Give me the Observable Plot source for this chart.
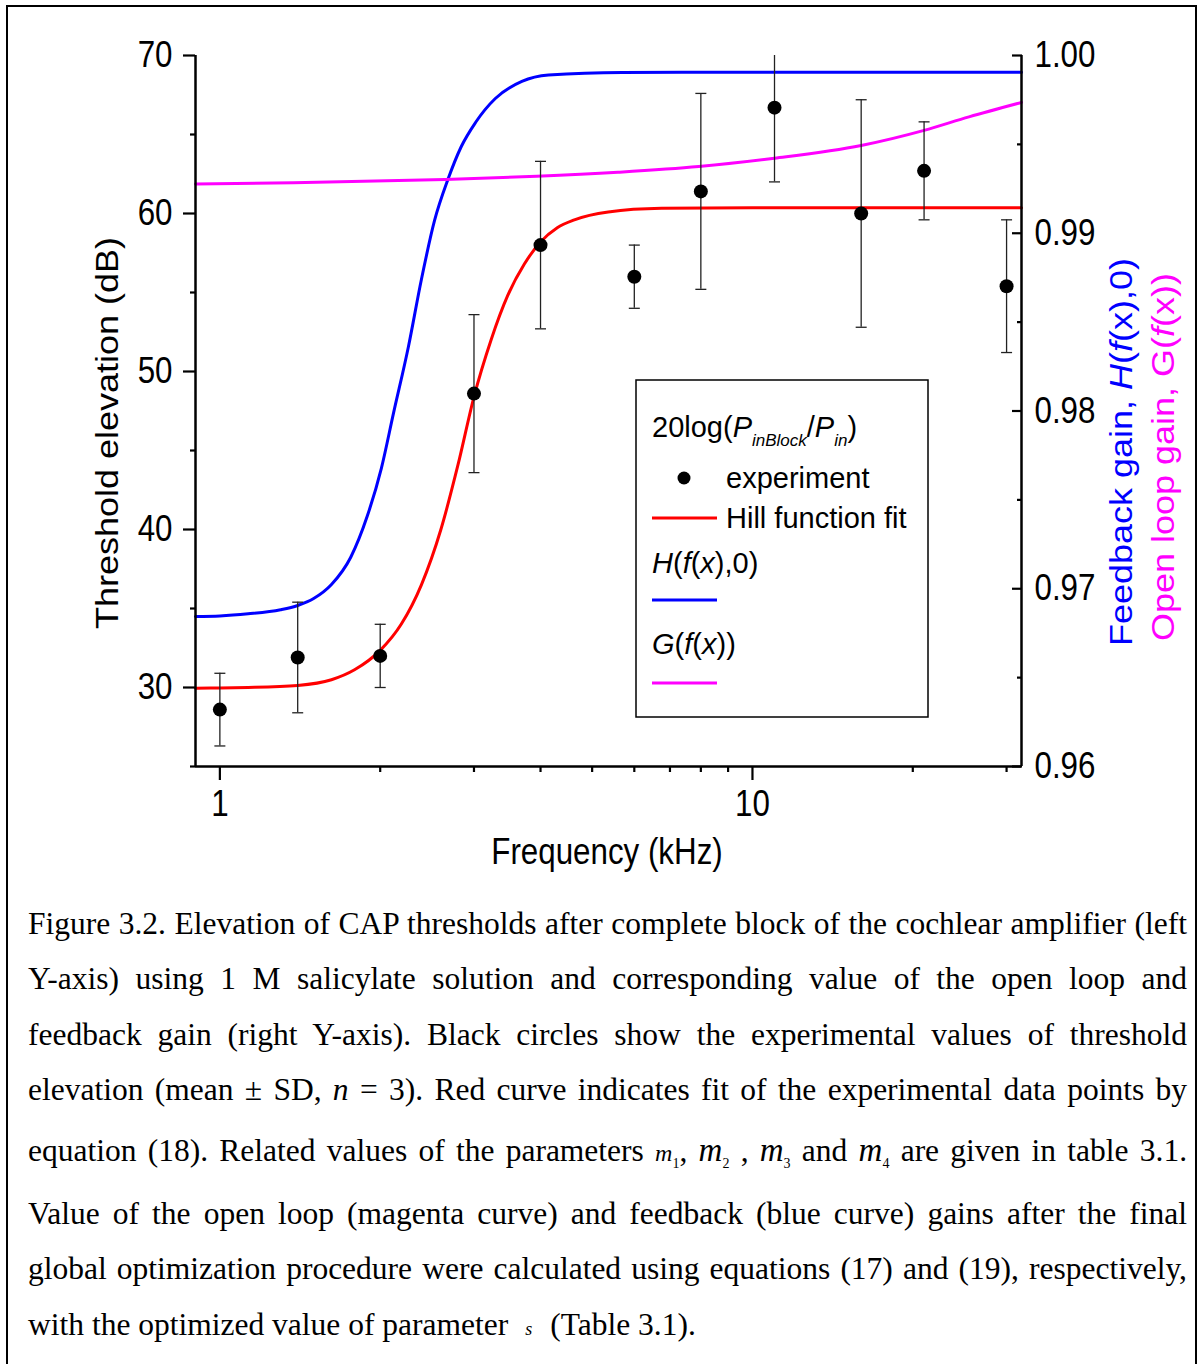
<!DOCTYPE html>
<html><head><meta charset="utf-8">
<script src="https://cdn.jsdelivr.net/npm/d3@7"></script>
<script src="https://cdn.jsdelivr.net/npm/@observablehq/plot@0.6"></script>
<style>
html,body{margin:0;padding:0;background:#fff;}
body{width:1204px;height:1364px;position:relative;overflow:hidden;}
#frame{position:absolute;left:6px;top:5px;width:1191px;height:1420px;border:2px solid #000;box-sizing:border-box;}
#chart{position:absolute;left:0;top:0;}
.cap{position:absolute;left:28px;width:1159px;font-family:"Liberation Serif","Times New Roman",serif;font-size:31.5px;line-height:40px;white-space:nowrap;color:#000;}
.cap sub{font-size:14px;vertical-align:-7px;line-height:0;font-style:normal;}
.cap .m1{font-size:24px;font-style:italic;}
.cap .mb{font-size:33px;font-style:italic;}
.cap .s{font-size:18px;font-style:italic;margin:0 18px 0 17px;}
</style>
</head>
<body>
<div id="frame"></div>
<div id="chart"></div>
<div class="cap just" style="top:904px">Figure 3.2. Elevation of CAP thresholds after complete block of the cochlear amplifier (left</div>
<div class="cap just" style="top:959px">Y-axis) using 1 M salicylate solution and corresponding value of the open loop and</div>
<div class="cap just" style="top:1015px">feedback gain (right Y-axis). Black circles show the experimental values of threshold</div>
<div class="cap just" style="top:1070px">elevation (mean ± SD, <i>n</i> = 3). Red curve indicates fit of the experimental data points by</div>
<div class="cap just" style="top:1130px">equation (18). Related values of the parameters <span class="m1">m</span><sub>1</sub>, <span class="mb">m</span><sub>2</sub> , <span class="mb">m</span><sub>3</sub> and <span class="mb">m</span><sub>4</sub> are given in table 3.1.</div>
<div class="cap just" style="top:1194px">Value of the open loop (magenta curve) and feedback (blue curve) gains after the final</div>
<div class="cap just" style="top:1249px">global optimization procedure were calculated using equations (17) and (19), respectively,</div>
<div class="cap" style="top:1305px">with the optimized value of parameter<span class="s">s</span>(Table 3.1).</div>
<script>
// ---- experimental data (threshold elevation, dB) ----
const freq = [1, 1.4, 2, 3, 4, 6, 8, 11, 16, 21, 30];
const mean = [28.6, 31.9, 32.0, 48.6, 58.0, 56.0, 61.4, 66.7, 60.0, 62.7, 55.4];
const sd   = [2.3, 3.5, 2.0, 5.0, 5.3, 2.0, 6.2, 4.7, 7.2, 3.1, 4.2];

// ---- Hill function fit (dB) ----
const hillFreq = [0.9, 1.0, 1.13, 1.4, 1.62, 1.79, 2.0, 2.19, 2.39, 2.6, 2.8, 3.0, 3.23, 3.47, 3.73, 4.0, 4.3, 4.63, 5.36, 6.75, 10, 20, 32];
const hillDb   = [29.96, 29.97, 30.0, 30.13, 30.49, 31.12, 32.35, 34.0, 36.5, 40.0, 44.1, 48.4, 52.0, 54.8, 56.8, 58.2, 59.1, 59.6, 60.1, 60.33, 60.37, 60.37, 60.37];

// ---- Feedback gain H(f(x),0), right axis ----
const blueFreq = [0.9, 1.0, 1.13, 1.3, 1.4, 1.5, 1.62, 1.76, 1.89, 2.01, 2.12, 2.26, 2.39, 2.53, 2.68, 2.84, 3.02, 3.29, 3.69, 4.14, 5.7, 10, 32];
const blueGain = [0.96844, 0.96847, 0.96859, 0.96882, 0.96906, 0.96945, 0.97024, 0.97176, 0.97406, 0.97677, 0.97992, 0.98363, 0.98740, 0.99072, 0.99302, 0.99488, 0.99623, 0.99758, 0.99854, 0.99890, 0.99905, 0.99906, 0.99906];

// ---- Open loop gain G(f(x)), right axis ----
const magFreq = [0.9, 1.375, 2.646, 3.935, 5.59, 7.93, 11.0, 16.0, 21.0, 25.5, 32];
const magGain = [0.99277, 0.99284, 0.99302, 0.99320, 0.99343, 0.99375, 0.99422, 0.99494, 0.99579, 0.99655, 0.99736];

// ---- axes ----
const xDomain = [0.9, 32];
const yDomain = [25, 70];
const rightDomain = [0.96, 1.00];
const xMajor = [1, 10];
const xMinor = [2, 3, 4, 5, 6, 7, 8, 9, 20, 30];
const yMajor = [30, 40, 50, 60, 70];
const yMinor = [25, 35, 45, 55, 65];
const rMajor = [0.96, 0.97, 0.98, 0.99, 1.00];
const rMinor = [0.965, 0.975, 0.985, 0.995];

const toLeft = v => yDomain[0] + (v - rightDomain[0]) / (rightDomain[1] - rightDomain[0]) * (yDomain[1] - yDomain[0]);
const fromLeft = y => rightDomain[0] + (y - yDomain[0]) / (yDomain[1] - yDomain[0]) * (rightDomain[1] - rightDomain[0]);

const points = freq.map((f, i) => ({f, m: mean[i], lo: mean[i] - sd[i], hi: mean[i] + sd[i]}));
const hill = hillFreq.map((f, i) => ({f, v: hillDb[i]}));
const blue = blueFreq.map((f, i) => ({f, v: toLeft(blueGain[i])}));
const mag = magFreq.map((f, i) => ({f, v: toLeft(magGain[i])}));

const capSymbol = {draw(ctx) { ctx.moveTo(-5.5, 0); ctx.lineTo(5.5, 0); }};
const FONT = "'Liberation Sans', Arial, Helvetica, sans-serif";

const chart = Plot.plot({
  width: 1204, height: 880,
  marginLeft: 195, marginRight: 183, marginTop: 55, marginBottom: 114,
  x: {type: "log", domain: xDomain},
  y: {domain: yDomain},
  style: {fontFamily: FONT, fontSize: "36px", background: "transparent", color: "#000"},
  marks: [
    Plot.line(blue, {x: "f", y: "v", stroke: "#0000ff", strokeWidth: 3, curve: "monotone-x"}),
    Plot.line(mag, {x: "f", y: "v", stroke: "#ff00ff", strokeWidth: 3, curve: "monotone-x"}),
    Plot.line(hill, {x: "f", y: "v", stroke: "#ff0000", strokeWidth: 3, curve: "monotone-x"}),
    Plot.ruleX(points, {x: "f", y1: "lo", y2: "hi", stroke: "#222", strokeWidth: 1.3, clip: true}),
    Plot.dot(points, {x: "f", y: "hi", symbol: capSymbol, r: 5, fill: "none", stroke: "#222", strokeWidth: 1.3, clip: true}),
    Plot.dot(points, {x: "f", y: "lo", symbol: capSymbol, r: 5, fill: "none", stroke: "#222", strokeWidth: 1.3, clip: true}),
    Plot.dot(points, {x: "f", y: "m", r: 7, fill: "#000", stroke: "none"}),
    // left axis
    Plot.axisY({anchor: "left", ticks: yMajor, tickSize: 12, tickPadding: 11, tickFormat: d => String(d), fontSize: 36, strokeWidth: 2.2, label: null}),
    Plot.axisY({anchor: "left", ticks: yMinor, tickSize: 5, fill: "none", strokeWidth: 2.2, label: null}),
    // right axis (inward ticks)
    Plot.axisY({anchor: "right", ticks: rMajor.map(toLeft), tickSize: 0, tickPadding: 13, tickFormat: v => fromLeft(v).toFixed(2), fontSize: 36, label: null}),
    Plot.axisY({anchor: "right", ticks: rMajor.map(toLeft), tickSize: 10, dx: -10, fill: "none", strokeWidth: 2.2, label: null}),
    Plot.axisY({anchor: "right", ticks: rMinor.map(toLeft), tickSize: 5, dx: -5, fill: "none", strokeWidth: 2.2, label: null}),
    // bottom axis
    Plot.axisX({ticks: xMajor, tickSize: 14, tickPadding: 10, tickFormat: d => String(d), fontSize: 36, strokeWidth: 2.2, label: null}),
    Plot.axisX({ticks: xMinor, tickSize: 6, fill: "none", strokeWidth: 2.2, label: null}),
    // axis lines
    Plot.ruleY([yDomain[0]], {strokeWidth: 2.5}),
    Plot.ruleX([xDomain[0]], {strokeWidth: 2.5}),
    Plot.ruleX([xDomain[1]], {strokeWidth: 2.5})
  ]
});
document.getElementById("chart").append(chart);

const K = 0.87;
chart.querySelectorAll("text").forEach(t => {
  const L = t.getComputedTextLength();
  if (L > 0) { t.setAttribute("textLength", (L * K).toFixed(2)); t.setAttribute("lengthAdjust", "spacingAndGlyphs"); }
});

const svg = d3.select(chart);
const ann = svg.append("g").attr("font-family", FONT).attr("fill", "#000");

// axis titles
const xt = ann.append("text").attr("x", 607).attr("y", 864).attr("text-anchor", "middle").attr("font-size", 36).text("Frequency (kHz)");
xt.attr("textLength", (xt.node().getComputedTextLength() * K).toFixed(2)).attr("lengthAdjust", "spacingAndGlyphs");

ann.append("text").attr("transform", `translate(118,433) rotate(-90) scale(1,${K})`).attr("text-anchor", "middle").attr("font-size", 36).text("Threshold elevation (dB)");

const bt = ann.append("text").attr("transform", `translate(1132,452) rotate(-90) scale(1,${K})`).attr("text-anchor", "middle").attr("font-size", 36).attr("fill", "#0000ff");
bt.append("tspan").text("Feedback gain, ");
bt.append("tspan").attr("font-style", "italic").text("H");
bt.append("tspan").text("(");
bt.append("tspan").attr("font-style", "italic").text("f");
bt.append("tspan").text("(x),0)");

const mt = ann.append("text").attr("transform", `translate(1174,457) rotate(-90) scale(1,${K})`).attr("text-anchor", "middle").attr("font-size", 36).attr("fill", "#ff00ff");
mt.append("tspan").text("Open loop gain, G(");
mt.append("tspan").attr("font-style", "italic").text("f");
mt.append("tspan").text("(x))");

// legend
const lg = ann.append("g").attr("font-size", 29).attr("text-anchor", "start");
lg.append("rect").attr("x", 636).attr("y", 380).attr("width", 292).attr("height", 337).attr("fill", "#fff").attr("stroke", "#000").attr("stroke-width", 1.5);
const lt = lg.append("text").attr("x", 652).attr("y", 437);
lt.append("tspan").text("20log(");
lt.append("tspan").attr("font-style", "italic").text("P");
lt.append("tspan").attr("font-style", "italic").attr("font-size", 17).attr("dy", 9).text("inBlock");
lt.append("tspan").attr("dy", -9).text("/");
lt.append("tspan").attr("font-style", "italic").text("P");
lt.append("tspan").attr("font-style", "italic").attr("font-size", 17).attr("dy", 9).text("in");
lt.append("tspan").attr("dy", -9).text(")");

lg.append("circle").attr("cx", 684).attr("cy", 478).attr("r", 6.5).attr("fill", "#000");
lg.append("text").attr("x", 726).attr("y", 488).text("experiment");
lg.append("line").attr("x1", 652).attr("x2", 717).attr("y1", 518).attr("y2", 518).attr("stroke", "#ff0000").attr("stroke-width", 3);
lg.append("text").attr("x", 726).attr("y", 528).text("Hill function fit");

const lh = lg.append("text").attr("x", 652).attr("y", 573);
lh.append("tspan").attr("font-style", "italic").text("H");
lh.append("tspan").text("(");
lh.append("tspan").attr("font-style", "italic").text("f");
lh.append("tspan").text("(");
lh.append("tspan").attr("font-style", "italic").text("x");
lh.append("tspan").text("),0)");
lg.append("line").attr("x1", 652).attr("x2", 717).attr("y1", 600).attr("y2", 600).attr("stroke", "#0000ff").attr("stroke-width", 3);

const lgg = lg.append("text").attr("x", 652).attr("y", 654);
lgg.append("tspan").attr("font-style", "italic").text("G");
lgg.append("tspan").text("(");
lgg.append("tspan").attr("font-style", "italic").text("f");
lgg.append("tspan").text("(");
lgg.append("tspan").attr("font-style", "italic").text("x");
lgg.append("tspan").text("))");
lg.append("line").attr("x1", 652).attr("x2", 717).attr("y1", 683).attr("y2", 683).attr("stroke", "#ff00ff").attr("stroke-width", 3);

// justify caption lines exactly to the text width via word-spacing
document.querySelectorAll(".cap.just").forEach(div => {
  const span = document.createElement("span");
  while (div.firstChild) span.appendChild(div.firstChild);
  div.appendChild(span);
  const natural = span.getBoundingClientRect().width;
  const spaces = (span.textContent.match(/ /g) || []).length;
  if (spaces > 0) div.style.wordSpacing = ((1159 - natural) / spaces).toFixed(3) + "px";
});
</script>
</body></html>
